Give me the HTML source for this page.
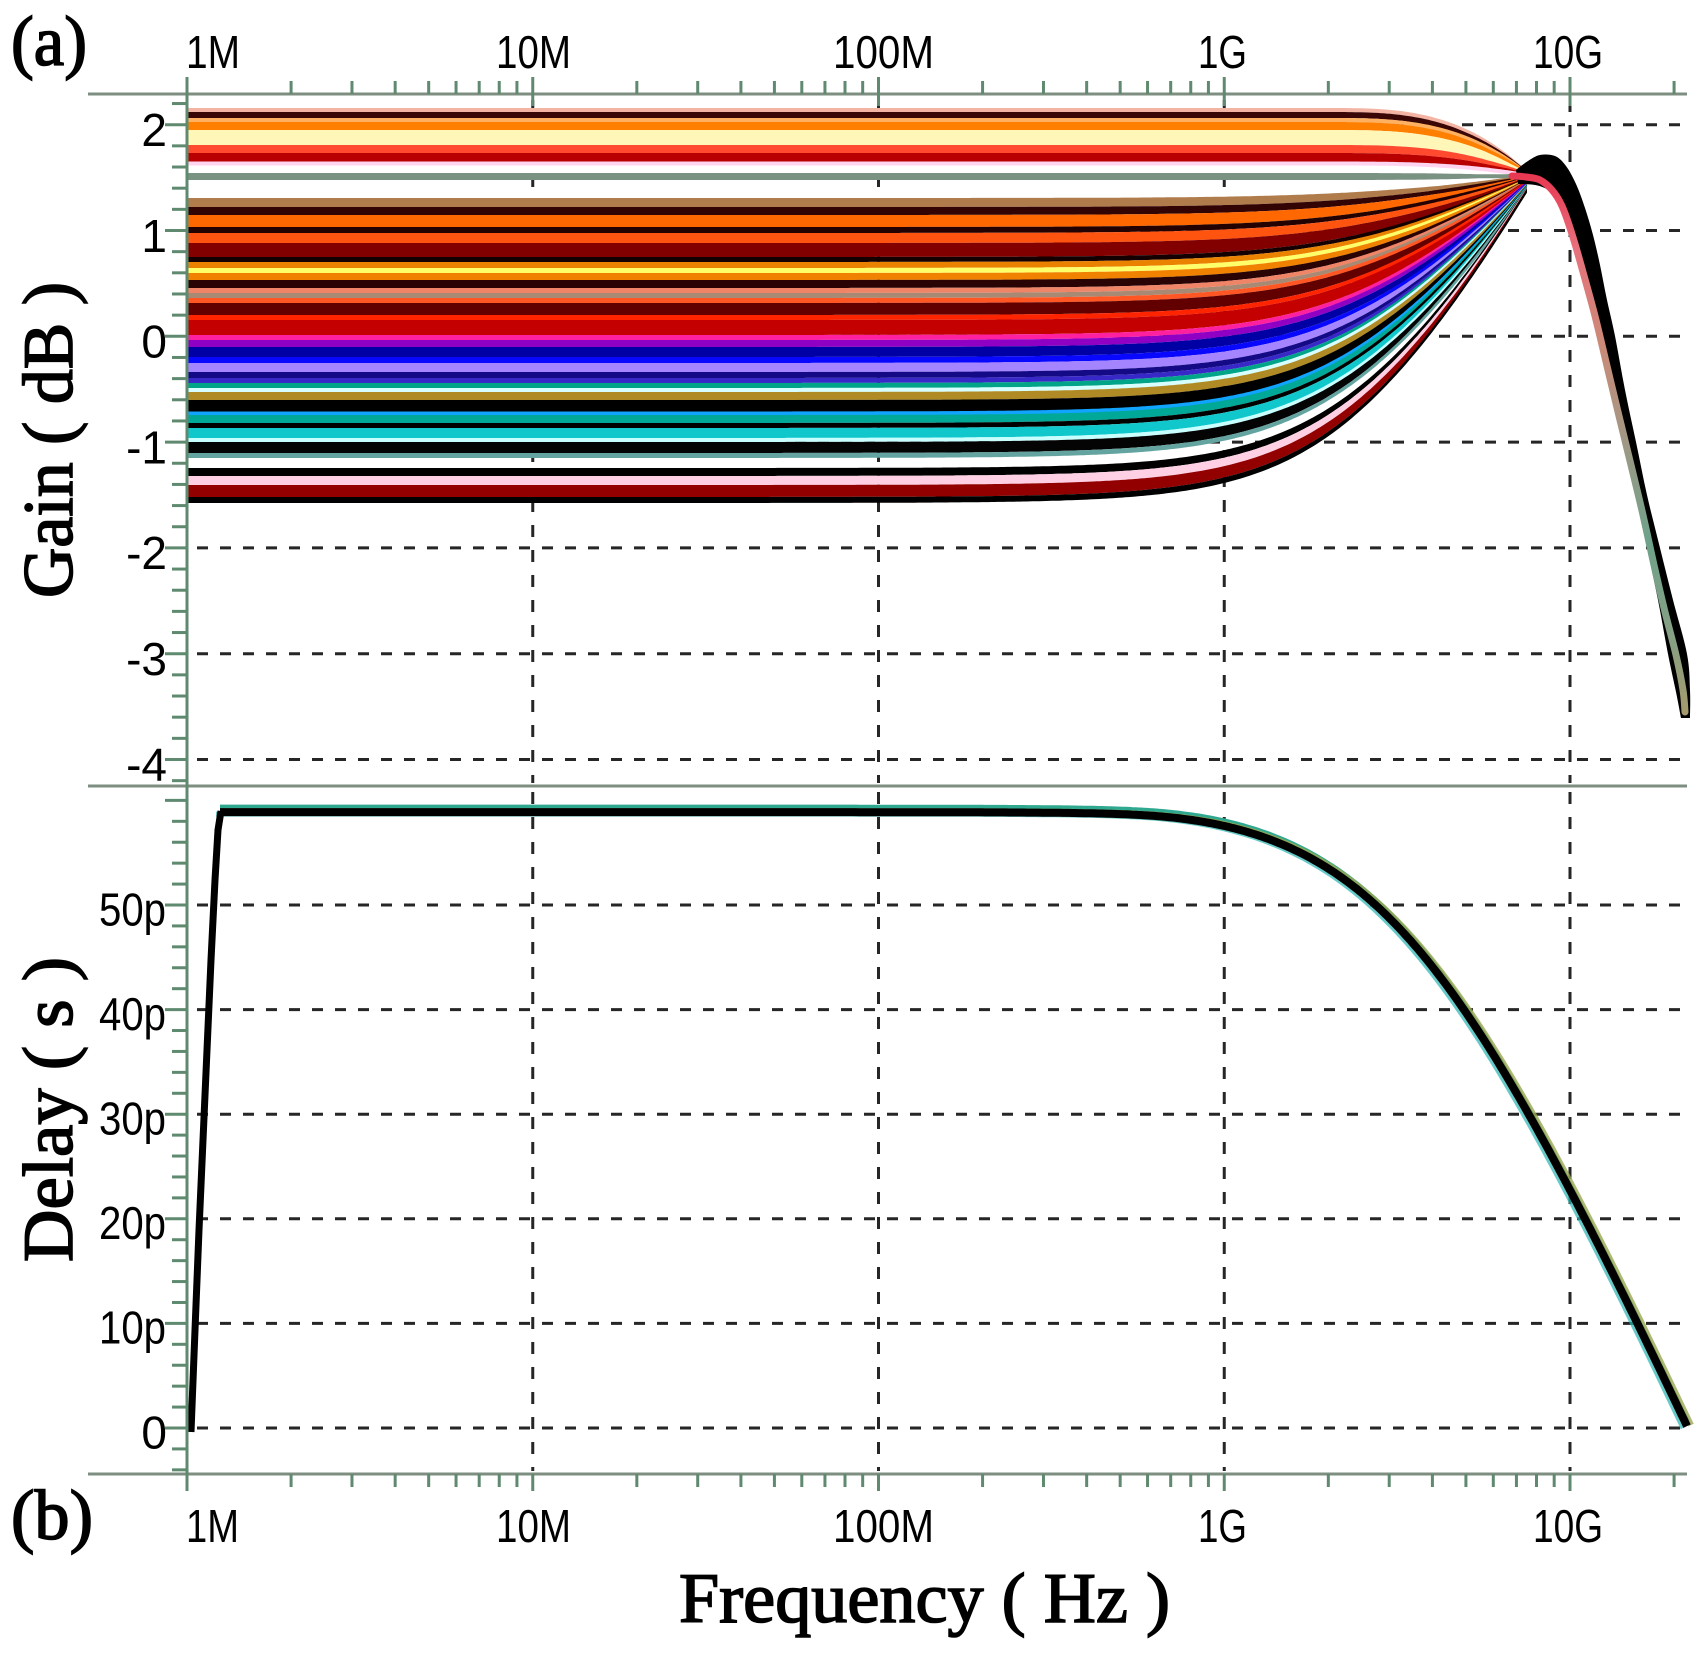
<!DOCTYPE html>
<html><head><meta charset="utf-8"><style>
html,body{margin:0;padding:0;background:#fff;}
svg{display:block;}
</style></head><body>
<svg id="c" width="1705" height="1653" viewBox="0 0 1705 1653" xmlns="http://www.w3.org/2000/svg">
<rect width="1705" height="1653" fill="#fff"/>
<defs>
<linearGradient id="fallg" gradientUnits="userSpaceOnUse" x1="0" y1="165" x2="0" y2="720">
<stop offset="0" stop-color="#e8304c"/>
<stop offset="0.15" stop-color="#e8707c"/>
<stop offset="0.32" stop-color="#cc8a78"/>
<stop offset="0.5" stop-color="#a09884"/>
<stop offset="0.68" stop-color="#6ea28a"/>
<stop offset="0.85" stop-color="#86a084"/>
<stop offset="1" stop-color="#a89a6c"/>
</linearGradient>
</defs>
<g id="grid"></g>
<g id="curves"></g>
<g id="axes"></g>
<g font-family="Liberation Sans, Arial, sans-serif" font-size="46" fill="#000">
<text x="186" y="68" textLength="54" lengthAdjust="spacingAndGlyphs">1M</text>
<text x="496" y="68" textLength="75" lengthAdjust="spacingAndGlyphs">10M</text>
<text x="833" y="68" textLength="101" lengthAdjust="spacingAndGlyphs">100M</text>
<text x="1198" y="68" textLength="49" lengthAdjust="spacingAndGlyphs">1G</text>
<text x="1533" y="68" textLength="70" lengthAdjust="spacingAndGlyphs">10G</text>
<text x="186" y="1542" textLength="53" lengthAdjust="spacingAndGlyphs">1M</text>
<text x="496" y="1542" textLength="75" lengthAdjust="spacingAndGlyphs">10M</text>
<text x="833" y="1542" textLength="101" lengthAdjust="spacingAndGlyphs">100M</text>
<text x="1198" y="1542" textLength="49" lengthAdjust="spacingAndGlyphs">1G</text>
<text x="1533" y="1542" textLength="70" lengthAdjust="spacingAndGlyphs">10G</text>
<text x="167" y="146" text-anchor="end">2</text>
<text x="167" y="252" text-anchor="end">1</text>
<text x="167" y="357.5" text-anchor="end">0</text>
<text x="167" y="463.5" text-anchor="end">-1</text>
<text x="167" y="569" text-anchor="end">-2</text>
<text x="167" y="675" text-anchor="end">-3</text>
<text x="167" y="780.5" text-anchor="end">-4</text>
<text x="99" y="925.5" textLength="67" lengthAdjust="spacingAndGlyphs">50p</text>
<text x="99" y="1030" textLength="67" lengthAdjust="spacingAndGlyphs">40p</text>
<text x="99" y="1134.5" textLength="67" lengthAdjust="spacingAndGlyphs">30p</text>
<text x="99" y="1239" textLength="67" lengthAdjust="spacingAndGlyphs">20p</text>
<text x="99" y="1343.5" textLength="67" lengthAdjust="spacingAndGlyphs">10p</text>
<text x="167" y="1448.5" text-anchor="end">0</text>
</g>
<g font-family="Liberation Serif, Times New Roman, serif" font-size="71" fill="#000" stroke="#000" stroke-width="1.6">
<text x="11" y="65" textLength="76" lengthAdjust="spacingAndGlyphs">(a)</text>
<text x="11" y="1539" textLength="82" lengthAdjust="spacingAndGlyphs">(b)</text>
<text x="679" y="1622" textLength="491" lengthAdjust="spacingAndGlyphs">Frequency ( Hz )</text>
<text transform="translate(72,598) rotate(-90)" x="0" y="0" textLength="316" lengthAdjust="spacingAndGlyphs">Gain ( dB )</text>
<text transform="translate(72,1262) rotate(-90)" x="0" y="0" textLength="305" lengthAdjust="spacingAndGlyphs">Delay ( s )</text>
</g>
</svg>
<script>
(function(){
const NS='http://www.w3.org/2000/svg';
function el(tag,attrs,parent){const e=document.createElementNS(NS,tag);for(const k in attrs)e.setAttribute(k,attrs[k]);parent.appendChild(e);return e;}
const G=document.getElementById('grid'),C=document.getElementById('curves'),A=document.getElementById('axes');
const X0=187,DEC=345.75,XR=1687;
const xL=L=>X0+DEC*L;
const gy=g=>336.3-105.8*g;
const dy=d=>1428-10.46*d;

function crPath(pts,closed){
 let d='M'+pts[0][0]+','+pts[0][1];
 const n=pts.length;
 for(let i=0;i<n-1;i++){
  const p0=pts[i-1]||pts[i],p1=pts[i],p2=pts[i+1],p3=pts[i+2]||p2;
  const c1=[p1[0]+(p2[0]-p0[0])/6,p1[1]+(p2[1]-p0[1])/6],c2=[p2[0]-(p3[0]-p1[0])/6,p2[1]-(p3[1]-p1[1])/6];
  d+='C'+c1[0].toFixed(1)+','+c1[1].toFixed(1)+' '+c2[0].toFixed(1)+','+c2[1].toFixed(1)+' '+p2[0]+','+p2[1];
 }
 return d;
}

// grid
for(let d=1;d<=4;d++){const x=xL(d);
 el('line',{x1:x,y1:100,x2:x,y2:783,stroke:'#262626','stroke-width':3,'stroke-dasharray':'12 13'},G);
 el('line',{x1:x,y1:792,x2:x,y2:1471,stroke:'#262626','stroke-width':3,'stroke-dasharray':'12 13'},G);
}
for(let g=2;g>=-4;g--){const y=gy(g);el('line',{x1:197,y1:y,x2:XR,y2:y,stroke:'#262626','stroke-width':3,'stroke-dasharray':'11 12'},G);}
for(let d=0;d<=50;d+=10){const y=dy(d);el('line',{x1:197,y1:y,x2:XR,y2:y,stroke:'#262626','stroke-width':3,'stroke-dasharray':'11 12'},G);}

// gain bands
const bands=[
[108,112,'#f4b4a4',0],[112,118,'#3a0606',0],[118,122,'#ffb060',0],[122,130,'#ff8000',0],[130,145,'#fff6b8',0],
[145,153,'#ff4a30',0],[153,162,'#b80000',0],[162,165,'#ffd4f0',0],[173,180,'#7a9282',0],
[198,207,'#b07c4c',1],[207,215,'#320404',1],[215,227,'#ff6800',1],[227,233,'#240202',1],[233,243,'#ff5410',1],
[243,257,'#820000',1],[257,262,'#140000',1],[262,268,'#ea8200',1],[268,273,'#ffff6a',1],[273,280,'#f08200',1],
[280,288,'#2a0404',1],[288,293,'#f08466',1],[293,298,'#a88a74',1],[298,303,'#ff5624',1],[303,315,'#620000',1],
[315,320,'#ff2400',1],[320,335,'#c40000',1],[335,340,'#ff20a0',1],[340,347,'#9000c4',1],[347,357,'#0000a4',1],
[357,363,'#0808ff',1],[363,372,'#a484ff',1],[372,378,'#140a86',1],[378,383,'#3828c8',1],[383,388,'#00a488',1],
[388,392,'#d8ffff',1],[392,400,'#b08a24',1],[400,412,'#000000',1],[412,415,'#10a4ff',1],[415,423,'#00a898',1],
[423,428,'#000000',1],[428,438,'#10c8cc',1],[438,442,'#c8ffff',1],[442,453,'#040404',1],[453,458,'#64a4a0',1],
[468,476,'#000000',1],[476,485,'#ffd0e4',1],[485,497,'#920000',1],[497,503,'#000000',1]
];
const XP=1527;
const Lp=(XP-X0)/DEC;
const dlow=v=>10*Math.log10(1+Math.pow(10,2*(v-3.4)));
const DP=dlow(Lp);
const sLow=L=>Math.min(1,dlow(L)/DP);
const sUp=L=>{let u=(L-3.3)/(Lp-3.3);if(u<=0)return 0;if(u>=1)return 1;return u*u*u;};
const yT=y0=>176+(y0-176)*0.045;
bands.forEach(b=>{
 const yt=b[0],yb=b[1],col=b[2],s=b[3]?sLow:sUp;
 const top=[],bot=[];const x0=188,N=420;
 for(let i=0;i<=N;i++){
  const x=x0+(XP-x0)*i/N;const L=(x-X0)/DEC;const sv=s(L);
  let a=yt+(yT(yt)-yt)*sv,c=yb+(yT(yb)-yb)*sv;
  if(c-a<4){const m=(a+c)/2;a=m-2;c=m+2;}
  top.push([x,a]);bot.push([x,c]);
 }
 const pts=top.concat(bot.reverse()).map(p=>p[0].toFixed(1)+','+p[1].toFixed(1)).join(' ');
 el('polygon',{points:pts,fill:col},C);
});

// falling common band (smooth edges)
const inner=[[1518,184],[1535,185],[1548,190],[1558,202],[1566,222],[1576,255],[1588,296],[1600,336],[1613,390],[1625,442],[1636,495],[1647,548],[1658,600],[1668,654],[1676,692],[1681,718]];
const outer=[[1690,718],[1690,690],[1687,654],[1673,600],[1660,548],[1647,495],[1636,442],[1625,390],[1615,336],[1607,300],[1600,265],[1593,235],[1585,208],[1576,184],[1566,166],[1555,156],[1540,155],[1528,161],[1516,170]];
let fp=crPath(inner)+' L'+outer[0][0]+','+outer[0][1]+' '+crPath(outer).slice(1)+' Z';
el('path',{d:fp,fill:'#000'},C);
const fallC=[[1512,176],[1526,177],[1540,180],[1552,190],[1562,206],[1572,234],[1583,272],[1595,316],[1607,366],[1619,416],[1631,465],[1643,515],[1654,565],[1665,612],[1676,655],[1683,690],[1685,712]];
el('path',{d:crPath(fallC),fill:'none',stroke:'url(#fallg)','stroke-width':7,'stroke-linejoin':'round','stroke-linecap':'round'},C);

// delay curve (smooth model)
const dp=[];
for(let x=220;x<=1689;x+=3){
 const L=(x-X0)/DEC,u=L-3;
 let D=1.4+18*(Math.log(1+Math.exp((u-0.52)/0.25))-0.118);
 D=0.5*(D+Math.sqrt(D*D+0.6));
 const d=59.05-D;
 dp.push([x,+(dy(d)).toFixed(1)]);
}
const dStr=dp.map(p=>p[0]+','+p[1]).join(' ');
el('polyline',{points:dStr,fill:'none',stroke:'#2fa890','stroke-width':5,transform:'translate(0,-5)'},C);
el('polyline',{points:dStr,fill:'none',stroke:'#9aa850','stroke-width':6,transform:'translate(4,-1)','opacity':0.8},C);
el('polyline',{points:dStr,fill:'none',stroke:'#28b4b0','stroke-width':5,transform:'translate(-4,2)','opacity':0.7},C);
el('polyline',{points:dStr,fill:'none',stroke:'#000','stroke-width':8,'stroke-linejoin':'round'},C);
el('polyline',{points:'191,1432 195,1330 199,1230 203,1140 207,1050 211,960 215,880 218,830 221,811',fill:'none',stroke:'#000','stroke-width':7,'stroke-linejoin':'miter'},C);

// axes
const ax='#7e8e80',tk='#5f8a6f';
el('line',{x1:88,y1:94,x2:XR,y2:94,stroke:ax,'stroke-width':3},A);
el('line',{x1:88,y1:786,x2:XR,y2:786,stroke:ax,'stroke-width':3},A);
el('line',{x1:88,y1:1474,x2:XR,y2:1474,stroke:ax,'stroke-width':3},A);
el('line',{x1:187,y1:77,x2:187,y2:1491,stroke:tk,'stroke-width':3},A);
for(let d=0;d<=4;d++){for(let m=1;m<=9;m++){const x=xL(d+Math.log10(m));if(x>XR)continue;
 if(m===1){el('line',{x1:x,y1:77,x2:x,y2:106,stroke:tk,'stroke-width':3},A);el('line',{x1:x,y1:1474,x2:x,y2:1491,stroke:tk,'stroke-width':3},A);}
 else{el('line',{x1:x,y1:81,x2:x,y2:94,stroke:tk,'stroke-width':3},A);el('line',{x1:x,y1:1474,x2:x,y2:1487,stroke:tk,'stroke-width':3},A);}
}}
for(let i=-21;i<=11;i++){const g=i/5;const y=gy(g);const maj=(i%5===0);
 el('line',{x1:maj?165:172,y1:y,x2:187,y2:y,stroke:tk,'stroke-width':3},A);}
for(let d=-4;d<=60;d+=2){const y=dy(d);const maj=(d%10===0);
 el('line',{x1:maj?165:172,y1:y,x2:187,y2:y,stroke:tk,'stroke-width':3},A);}
})();
</script>
</body></html>
